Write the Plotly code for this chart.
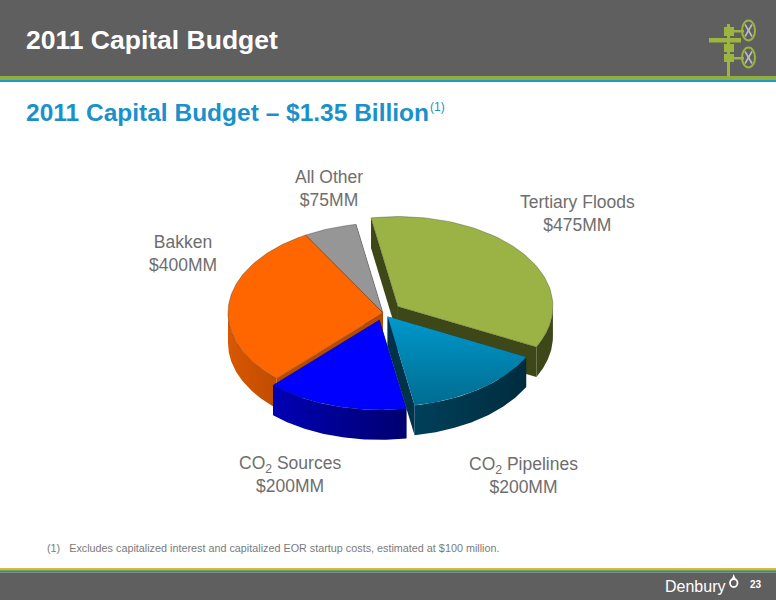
import numpy as np
import plotly.graph_objects as go

# budget by project, $MM
categories = ["Tertiary Floods", "CO2 Pipelines", "CO2 Sources", "Bakken", "All Other"]
budget = [475, 200, 200, 400, 75]
label_text = ["Tertiary Floods<br>$475MM", "CO<sub>2</sub> Pipelines<br>$200MM",
              "CO<sub>2</sub> Sources<br>$200MM", "Bakken<br>$400MM", "All Other<br>$75MM"]

# how far each slice is pulled out, as a share of the radius
pull = [0.12, 0.05, 0.08, 0, 0]
label_x = [577, 523, 290, 183, 329]
label_y = [213, 475, 474, 253, 188]

top_colors = ["#9BB344", None, "#0000FF", "#FF6600", "#969696"]
edge_colors = ["#3D4717", "#00324A", "#00008C", "#B84A00", "#6E6E6E"]
wall_scales = [
    ["#3D4717", "#3D4717"],
    ["#00405A", "#002C3E"],
    ["#0000B4", "#000070"],
    ["#D95700", "#C04C00"],
    ["#6E6E6E", "#6E6E6E"],
]

# pie geometry in page pixels
cx, cy = 383, 313
rx, ry = 155, 90
depth = 30
start_angle = -10

fig = go.Figure()


def edge(px, py, a0, a1):
    t = np.radians(np.linspace(a0, a1, 80))
    return px + rx * np.sin(t), py - ry * np.cos(t)


def add_poly(x, y, **kw):
    fig.add_trace(go.Scatter(x=list(x), y=list(y), fill="toself", mode="lines",
                             line=dict(width=0), hoverinfo="skip", showlegend=False, **kw))


shares = np.array(budget) / sum(budget) * 360
starts = start_angle + np.concatenate([[0], np.cumsum(shares)[:-1]])

# back slices first so the front ones paint over them
for i in [0, 4, 3, 1, 2]:
    a0, a1 = starts[i], starts[i] + shares[i]
    mid = np.radians((a0 + a1) / 2)
    px = cx + pull[i] * rx * np.sin(mid)
    py = cy - pull[i] * ry * np.cos(mid)

    # flat walls along both cut edges
    for a in (a0, a1):
        ex, ey = edge(px, py, a, a)
        add_poly([px, ex[0], ex[0], px, px],
                 [py, ey[0], ey[0] + depth, py + depth, py],
                 fillcolor=edge_colors[i])

    # curved wall, only on the front half of the rim
    w0, w1 = max(a0, 90), min(a1, 270)
    if w1 > w0:
        ax, ay = edge(px, py, w0, w1)
        add_poly(np.concatenate([ax, ax[::-1]]), np.concatenate([ay, ay[::-1] + depth]),
                 fillgradient=dict(type="horizontal",
                                   colorscale=[[0, wall_scales[i][1 if ax[0] < ax[-1] else 0]],
                                               [1, wall_scales[i][0 if ax[0] < ax[-1] else 1]]]))

    # top face
    tx, ty = edge(px, py, a0, a1)
    x = np.concatenate([[px], tx, [px]])
    y = np.concatenate([[py], ty, [py]])
    if top_colors[i] is None:
        add_poly(x, y, fillgradient=dict(type="vertical",
                                         colorscale=[[0, "#006C90"], [1, "#0098CC"]]))
    else:
        fig.add_trace(go.Scatter(x=list(x), y=list(y), fill="toself", mode="lines",
                                 fillcolor=top_colors[i], hoverinfo="skip", showlegend=False,
                                 line=dict(width=0.6, color="rgba(40,40,40,0.55)")))

# slide furniture
GREEN = "#9BB53F"
shapes = [
    dict(type="rect", x0=0, x1=776, y0=0, y1=76, fillcolor="#5F5F5F"),
    dict(type="rect", x0=0, x1=776, y0=76, y1=80, fillcolor="#8FAE3F"),
    dict(type="rect", x0=0, x1=776, y0=80, y1=82, fillcolor="#1F9BC9"),
    dict(type="rect", x0=0, x1=776, y0=568, y1=569.5, fillcolor="#D9B84A"),
    dict(type="rect", x0=0, x1=776, y0=569.5, y1=571, fillcolor="#6FA35A"),
    dict(type="rect", x0=0, x1=776, y0=571, y1=572.5, fillcolor="#2F8A9A"),
    dict(type="rect", x0=0, x1=776, y0=572.5, y1=600, fillcolor="#5F5F5F"),
    # wellhead icon
    dict(type="rect", x0=727, x1=730, y0=24, y1=77, fillcolor=GREEN),
    dict(type="rect", x0=709, x1=741, y0=38, y1=42.5, fillcolor=GREEN),
    dict(type="rect", x0=724, x1=734, y0=27, y1=36, fillcolor=GREEN),
    dict(type="rect", x0=724, x1=734, y0=44, y1=52, fillcolor=GREEN),
    dict(type="rect", x0=724, x1=734, y0=54, y1=62, fillcolor=GREEN),
    dict(type="rect", x0=733, x1=744, y0=30, y1=32.5, fillcolor=GREEN),
    dict(type="rect", x0=733, x1=744, y0=57, y1=59.5, fillcolor=GREEN),
]
for wy in (30.5, 57.5):
    shapes.append(dict(type="circle", x0=742, x1=755, y0=wy - 10, y1=wy + 10,
                       fillcolor="rgba(0,0,0,0)", line=dict(color=GREEN, width=2)))
    shapes.append(dict(type="line", x0=745, x1=752, y0=wy - 6, y1=wy + 6,
                       line=dict(color="#BFBFBF", width=1.5)))
    shapes.append(dict(type="line", x0=745, x1=752, y0=wy + 6, y1=wy - 6,
                       line=dict(color="#BFBFBF", width=1.5)))
# Denbury drop
shapes.append(dict(type="circle", x0=730, x1=737.5, y0=579, y1=587,
                   fillcolor="#5F5F5F", line=dict(color="white", width=1.8)))
shapes.append(dict(type="path", path="M 733.7 574 L 731.5 580 L 736 580 Z",
                   fillcolor="white", line=dict(width=0)))
for s in shapes:
    s.setdefault("line", dict(width=0))
    s["layer"] = "below"

FONT = "Liberation Sans"
annotations = [
    dict(x=24, y=40, text="<b>2011 Capital Budget</b>", xanchor="left",
         font=dict(size=26.5, color="white", family=FONT)),
    dict(x=24, y=112, text="<b>2011 Capital Budget – $1.35 Billion</b>", xanchor="left",
         font=dict(size=24.5, color="#1A91CB", family=FONT)),
    dict(x=428, y=107, text="(1)", xanchor="left",
         font=dict(size=12, color="#1A91CB", family=FONT)),
    dict(x=45, y=548, text="(1)   Excludes capitalized interest and capitalized EOR startup costs, estimated at $100 million.",
         xanchor="left", font=dict(size=10.8, color="#7A7A7A", family=FONT)),
    dict(x=663, y=586, text="Denbury", xanchor="left", font=dict(size=16, color="white", family=FONT)),
    dict(x=756, y=584, text="<b>23</b>", font=dict(size=10, color="white", family=FONT)),
]
for t, lx, ly in zip(label_text, label_x, label_y):
    annotations.append(dict(x=lx, y=ly, text=t, font=dict(size=17.5, color="#6E6E6E", family=FONT)))
for a in annotations:
    a.update(showarrow=False, xref="x", yref="y")

fig.update_layout(
    width=776, height=600, margin=dict(l=0, r=0, t=0, b=0),
    paper_bgcolor="white", plot_bgcolor="white", showlegend=False,
    xaxis=dict(range=[0, 776], visible=False, fixedrange=True),
    yaxis=dict(range=[600, 0], visible=False, fixedrange=True),
    shapes=shapes, annotations=annotations,
)
fig.write_html("out.html", config=dict(displayModeBar=False),
               post_script="document.body.style.margin='0';")
